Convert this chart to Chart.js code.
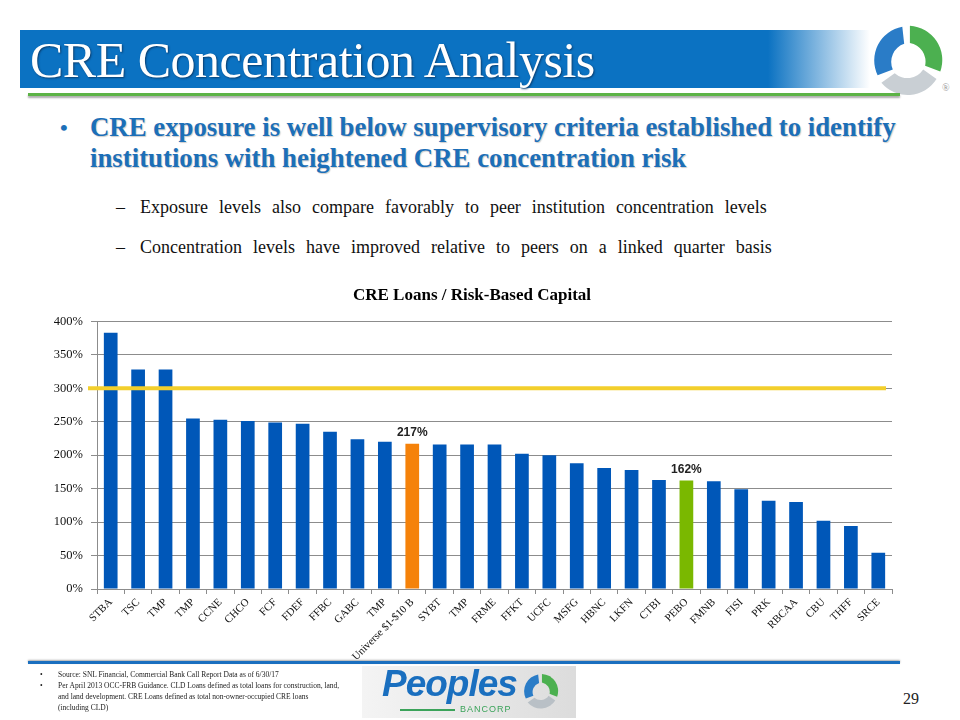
<!DOCTYPE html>
<html>
<head>
<meta charset="utf-8">
<script src="https://cdn.jsdelivr.net/npm/chart.js@4.4.0/dist/chart.umd.min.js"></script>
<style>
  body { margin: 0; width: 960px; height: 720px; background: #fff; position: relative; overflow: hidden; font-family: "Liberation Serif", serif; }
  .banner { position: absolute; left: 20px; top: 30px; width: 850px; height: 58px;
    background: linear-gradient(to right, #0b72c2 0%, #0b72c2 88%, #ffffff 100%); }
  .banner h1 { margin: 0; position: absolute; left: 10px; top: 3px; color: #fff; font-weight: normal;
    font-size: 50px; letter-spacing: -0.5px; text-shadow: 1px 1px 2px #0a3d6e; white-space: nowrap; line-height: 55px; }
  .greenline { position: absolute; left: 28px; top: 93px; width: 872px; height: 3px; background: #5cb346; box-shadow: 0 2px 2px #aaa; }
  .blueline { position: absolute; left: 28px; top: 661px; width: 872px; height: 3px; background: #1a6fbf; box-shadow: 0 -1px 2px #aaa; }
  .bullet { position: absolute; left: 60px; top: 112px; color: #1c6fb8; font-weight: bold; font-size: 26.8px; line-height: 31px; }
  .bullet .dot { position: absolute; left: 0; top: 0; font-size: 22px; }
  .bullet .txt { position: absolute; left: 30px; width: 840px; white-space: nowrap; text-shadow: 1px 1px 1px #ccc; }
  .sub { position: absolute; left: 116px; font-size: 18px; color: #111; white-space: nowrap; word-spacing: 6.5px; }
  .sub span { position: absolute; left: 24px; }
  .foot { position: absolute; left: 40px; top: 669px; font-size: 7.5px; line-height: 11px; color: #222; width: 300px; }
  .foot div { position: relative; padding-left: 18px; }
  .foot div b { position: absolute; left: 0; font-weight: normal; }
  .page { position: absolute; left: 903px; top: 690px; font-size: 16px; color: #222; }
  .peoples { position: absolute; left: 362px; top: 666px; width: 214px; height: 52px;
    background: linear-gradient(to right, #f4f4f4, #dcdcdc); }
  .peoples .name { position: absolute; left: 20px; top: -3px; font-family: "Liberation Sans", sans-serif; font-weight: bold; font-style: italic; font-size: 37px; color: #1a6fbf; letter-spacing: -1px; }
  .peoples .bc { position: absolute; left: 98px; top: 38px; font-family: "Liberation Sans", sans-serif; font-size: 9px; color: #3ba35a; letter-spacing: 1px; }
  .peoples .rule { position: absolute; left: 38px; top: 43px; width: 55px; height: 1.5px; background: #3ba35a; }
  #wrap { position: absolute; left: 0; top: 280px; width: 960px; height: 400px; }
</style>
</head>
<body>
<div class="banner"><h1>CRE Concentration Analysis</h1></div>
<svg style="position:absolute;left:870px;top:22px" width="76" height="76" viewBox="0 0 80 80">
  <path d="M42 4 A36 36 0 0 1 74 52 L58 46 A20 20 0 0 0 42 22 Z" fill="#4cb050"/>
  <path d="M8 56 A36 36 0 0 1 34 5 L36 23 A20 20 0 0 0 24 50 Z" fill="#2a7cc7"/>
  <path d="M70 60 A36 36 0 0 1 12 64 L26 54 A20 20 0 0 0 56 50 Z" fill="#c9cfd4"/>
</svg>
<div style="position:absolute;left:942px;top:82px;font-size:10px;color:#999;">®</div>
<div class="greenline"></div>

<div class="bullet">
  <div class="dot">•</div>
  <div class="txt">CRE exposure is well below supervisory criteria established to identify<br>institutions with heightened CRE concentration risk</div>
</div>
<div class="sub" style="top:197px">–<span>Exposure levels also compare favorably to peer institution concentration levels</span></div>
<div class="sub" style="top:237px">–<span>Concentration levels have improved relative to peers on a linked quarter basis</span></div>

<div id="wrap"><canvas id="chart1"></canvas></div>

<div class="blueline"></div>
<div class="foot">
  <div><b>•</b>Source: SNL Financial, Commercial Bank Call Report Data as of 6/30/17</div>
  <div><b>•</b>Per April 2013 OCC-FRB Guidance. CLD Loans defined as total loans for construction, land, and land development. CRE Loans defined as total non-owner-occupied CRE loans (including CLD)</div>
</div>
<div class="peoples">
  <div class="name">Peoples</div>
  <div class="rule"></div>
  <div class="bc">BANCORP</div>
  <svg style="position:absolute;left:160px;top:6px" width="38" height="38" viewBox="0 0 80 80">
    <path d="M42 4 A36 36 0 0 1 74 52 L58 46 A20 20 0 0 0 42 22 Z" fill="#4cb050"/>
    <path d="M8 56 A36 36 0 0 1 34 5 L36 23 A20 20 0 0 0 24 50 Z" fill="#2a7cc7"/>
    <path d="M70 60 A36 36 0 0 1 12 64 L26 54 A20 20 0 0 0 56 50 Z" fill="#b9c0c6"/>
  </svg>
</div>
<div class="page">29</div>

<script>
// chart data
const banks = ['STBA','TSC','TMP','TMP','CCNE','CHCO','FCF','FDEF','FFBC','GABC','TMP','Universe $1-$10 B',
  'SYBT','TMP','FRME','FFKT','UCFC','MSFG','HBNC','LKFN','CTBI','PEBO','FMNB','FISI','PRK','RBCAA','CBU','THFF','SRCE'];
const creRatio = [383, 328, 328, 255, 253, 251, 249, 247, 235, 224, 220, 217,
  216, 216, 216, 202, 200, 188, 181, 178, 163, 162, 161, 149, 132, 130, 102, 94, 54];
const barLabels = [null,null,null,null,null,null,null,null,null,null,null,'217%',
  null,null,null,null,null,null,null,null,null,'162%',null,null,null,null,null,null,null];
const yTicks = [0, 50, 100, 150, 200, 250, 300, 350, 400];
const threshold = 300;

const blue = '#0057b8';
const barColors = banks.map((b, i) => {
  if (b.indexOf('Universe') === 0) return '#f5820a';
  if (b === 'PEBO') return '#7ab800';
  return blue;
});

// yellow supervisory line + value labels
const extras = {
  id: 'extras',
  afterDatasetsDraw(chart) {
    const ctx = chart.ctx;
    const area = chart.chartArea;
    const y = chart.scales.y.getPixelForValue(threshold);
    ctx.save();
    ctx.strokeStyle = '#f3cf2c';
    ctx.lineWidth = 4;
    ctx.beginPath();
    ctx.moveTo(area.left - 9, y);
    ctx.lineTo(area.right - 6, y);
    ctx.stroke();

    const meta = chart.getDatasetMeta(0);
    ctx.fillStyle = '#222';
    ctx.font = 'bold 12px "Liberation Sans", Arial';
    ctx.textAlign = 'center';
    ctx.textBaseline = 'bottom';
    meta.data.forEach((bar, i) => {
      if (barLabels[i]) ctx.fillText(barLabels[i], bar.x, bar.y - 5);
    });
    ctx.restore();
  }
};

const cre = document.getElementById('chart1').getContext('2d');
const CREGraph = new Chart(cre, {
  type: 'bar',
  data: {
    labels: banks,
    datasets: [{
      label: 'CRE Loans / Risk-Based Capital',
      data: creRatio,
      backgroundColor: barColors,
      borderWidth: 0,
      categoryPercentage: 1,
      barPercentage: 0.5
    }]
  },
  options: {
    responsive: true,
    maintainAspectRatio: false,
    animation: false,
    layout: { padding: { left: 52, right: 68, top: 0, bottom: 0 } },
    plugins: {
      legend: { display: false },
      tooltip: { enabled: false },
      title: {
        display: true,
        text: 'CRE Loans / Risk-Based Capital',
        color: '#000',
        font: { family: '"Liberation Serif", serif', size: 17, weight: 'bold' },
        padding: { top: 5, bottom: 16 }
      }
    },
    scales: {
      y: {
        min: 0,
        max: 400,
        afterBuildTicks: (s) => { s.ticks = yTicks.map(v => ({ value: v })); },
        afterFit: (s) => { s.width = 45; },
        ticks: {
          callback: (v) => v + '%',
          color: '#111',
          padding: 8,
          font: { family: '"Liberation Serif", serif', size: 12.5 }
        },
        grid: { color: '#8c8c8c', tickLength: 6 },
        border: { color: '#8c8c8c' }
      },
      x: {
        afterFit: (s) => { s.height = 91; },
        ticks: {
          autoSkip: false,
          minRotation: 45,
          maxRotation: 45,
          color: '#111',
          padding: 2,
          font: { family: '"Liberation Serif", serif', size: 10.8 }
        },
        grid: { drawOnChartArea: false, color: '#8c8c8c', tickLength: 5 },
        border: { color: '#8c8c8c' }
      }
    }
  },
  plugins: [extras]
});
</script>
</body>
</html>
